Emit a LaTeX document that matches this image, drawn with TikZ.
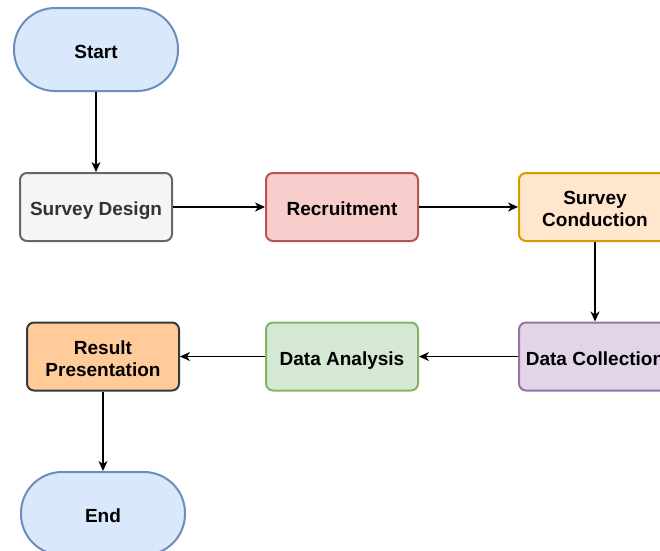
\documentclass[tikz,border=0pt]{standalone}
\usepackage{fontspec}
\setmainfont{Liberation Sans}
\usetikzlibrary{arrows.meta}

\definecolor{termfill}{HTML}{DAE8FC}
\definecolor{termline}{HTML}{6C8EBF}
\definecolor{grayfill}{HTML}{F5F5F5}
\definecolor{grayline}{HTML}{666666}
\definecolor{graytext}{HTML}{333333}
\definecolor{redfill}{HTML}{F8CECC}
\definecolor{redline}{HTML}{B85450}
\definecolor{orangefill}{HTML}{FFE6CC}
\definecolor{orangeline}{HTML}{D79B00}
\definecolor{purplefill}{HTML}{E1D5E7}
\definecolor{purpleline}{HTML}{9673A6}
\definecolor{greenfill}{HTML}{D5E8D4}
\definecolor{greenline}{HTML}{82B366}
\definecolor{peachfill}{HTML}{FFCC99}
\definecolor{darkline}{HTML}{36393D}

\begin{document}
\begin{tikzpicture}[x=1pt,y=-1pt,
  box/.style={draw, line width=2pt, rounded corners=7pt,
    minimum width=152pt, minimum height=68pt, inner sep=0pt, align=center,
    text height=17.6pt, text depth=0pt,
    font=\fontsize{19}{22}\selectfont\bfseries},
  twoline/.style={text height=39.6pt},
  term/.style={box, rounded corners=41pt, minimum width=164pt,
    minimum height=83pt, fill=termfill, draw=termline},
  link/.style={-{Stealth[length=10pt,width=9pt,inset=3pt]}, line width=1.3pt}]

\useasboundingbox (0,0) rectangle (660,550);
\clip (0,0) rectangle (660,550);

% terminators
\node[term] (start) at (96,49.5) {Start};
\node[term] (end) at (103,513.5) {End};

% top row
\node[box, fill=grayfill, draw=grayline, text=graytext] (design) at (96,207) {Survey Design};
\node[box, fill=redfill, draw=redline] (recruit) at (342,207) {Recruitment};
\node[box, twoline, fill=orangefill, draw=orangeline] (conduct) at (595,207) {Survey\\Conduction};

% bottom row
\node[box, fill=purplefill, draw=purpleline] (collect) at (595,356.5) {Data Collection};
\node[box, fill=greenfill, draw=greenline] (analysis) at (342,356.5) {Data Analysis};
\node[box, twoline, fill=peachfill, draw=darkline] (present) at (103,356.5) {Result\\Presentation};

% connectors
\draw[link] (start) -- (design);
\draw[link] (design) -- (recruit);
\draw[link] (recruit) -- (conduct);
\draw[link] (conduct) -- (collect);
\draw[link] (collect) -- (analysis);
\draw[link] (analysis) -- (present);
\draw[link] (present) -- (end);
\end{tikzpicture}
\end{document}
